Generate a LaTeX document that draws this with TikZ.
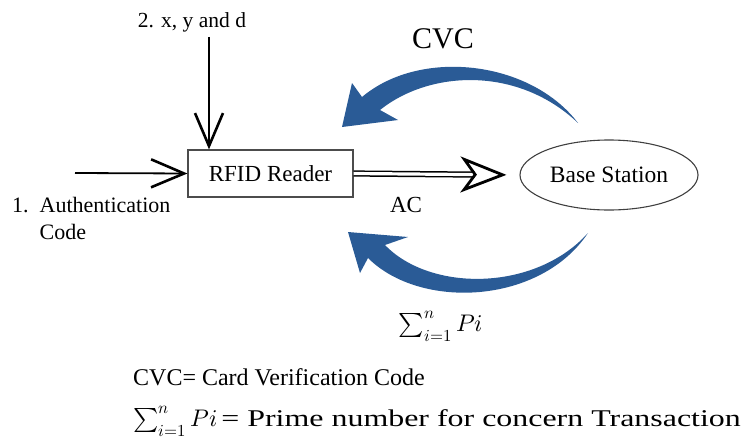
\documentclass[tikz,border=0pt]{standalone}
\usepackage{unicode-math}
\setmainfont{Liberation Serif}
\setmathfont{Latin Modern Math}
\usetikzlibrary{arrows.meta,shapes.geometric}
\definecolor{arrowblue}{RGB}{42,91,150}
\begin{document}
\begin{tikzpicture}[x=1pt, y=-1pt,
    every node/.style = {inner sep=0pt, align=center},
    box/.style = {draw=black!70, line width=1.2pt, minimum width=165pt, minimum height=47pt, font=\fontsize{23}{27}\selectfont},
    station/.style = {ellipse, draw=black!75, line width=1.1pt, minimum width=178pt, minimum height=70pt, font=\fontsize{23.5}{27}\selectfont},
    lbl/.style = {font=\fontsize{21.5}{25}\selectfont},
    barb/.style = {line width=1.8pt, -{Straight Barb[length=33pt,width=28pt,line width=2.6pt]}},
    send/.style = {double, double distance=3.2pt, line width=1.5pt, shorten >=13pt, -{Stealth[open, length=46pt, width=36pt, inset=13pt, line width=2.8pt]}},
    bluearrow/.style = {fill=arrowblue, draw=none}]

  \useasboundingbox (0,0) rectangle (741,444);

  % nodes
  \node [box] (reader) at (270.5,173.5) {RFID Reader};
  \node [station] (base) at (609,175) {Base Station};
  \node [lbl] (xyd) at (192,22) {2. x, y and d};
  \node [lbl, anchor=north west, font=\fontsize{22}{27}\selectfont, align=left] (auth) at (12,193)
    {\begin{tabular}{@{}l@{\ \ }l}1. & Authentication\\ & Code\end{tabular}};
  \node [lbl, font=\fontsize{23}{27}\selectfont] (ac) at (406,205) {AC};
  \node [font=\fontsize{30}{34}\selectfont] (cvc) at (443,39) {CVC};
  \node [font=\fontsize{24}{28}\selectfont] (sum) at (441,326) {$\sum_{i=1}^{n} Pi$};

  % legend
  \node [anchor=west, font=\fontsize{24}{28}\selectfont] (key1) at (133,377) {CVC= Card Verification Code};
  \node [anchor=west, font=\fontsize{24}{28}\selectfont] (key2) at (133,421)
    {$\sum_{i=1}^{n} Pi$\,\scalebox{1.33}[1]{= Prime number for concern Transaction}};

  % inputs
  \coordinate (xydend) at (209,37);
  \coordinate (authend) at (75,173);
  \draw [barb] (xydend) -- (xydend |- reader.north);
  \draw [barb] (authend) -- (reader.west);
  \draw [send] (reader.east) -- (base.west);

  % CVC back to the reader
  \fill [bluearrow] (578,123) .. controls (530,60) and (420,48) .. (362,97)
    -- (352,83) -- (342,127) -- (398,120) -- (380,110)
    .. controls (430,70) and (518,66) .. (578,123) -- cycle;
  % primes back to the reader
  \fill [bluearrow] (588,233) .. controls (540,305) and (420,310) .. (368,258)
    -- (360,273) -- (348,232) -- (408,237) -- (385,245)
    .. controls (430,292) and (535,292) .. (588,233) -- cycle;

\end{tikzpicture}
\end{document}
